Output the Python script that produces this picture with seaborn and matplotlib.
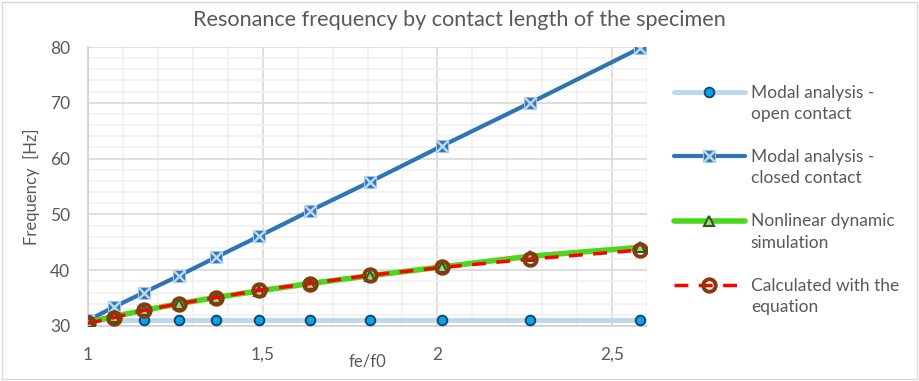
import matplotlib
matplotlib.use('Agg')
import matplotlib.pyplot as plt
import seaborn as sns
from matplotlib.patches import Rectangle
from matplotlib.ticker import MultipleLocator
from matplotlib.lines import Line2D
from matplotlib.legend_handler import HandlerLine2D

# data
fe_f0 = [1.0, 1.074, 1.16, 1.26, 1.366, 1.49, 1.634, 1.806, 2.014, 2.266, 2.58]
open_contact = [31.0, 31.0, 31.0, 31.0, 31.0, 31.0, 31.0, 31.0, 31.0, 31.0, 31.0]
closed_contact = [31.0, 33.4, 36.0, 39.0, 42.3, 46.1, 50.6, 55.8, 62.3, 70.0, 79.8]
nonlinear_sim = [30.7, 31.7, 32.8, 34.0, 35.1, 36.3, 37.6, 39.0, 40.6, 42.5, 44.1]
calc_equation = [30.5, 31.5, 32.8, 34.0, 35.1, 36.4, 37.6, 39.1, 40.5, 42.0, 43.6]

x_ticks = [1, 1.5, 2, 2.5]
x_tick_labels = ['1', '1,5', '2', '2,5']
y_ticks = [30, 40, 50, 60, 70, 80]
legend_labels = ['Modal analysis -\nopen contact', 'Modal analysis -\nclosed contact',
                 'Nonlinear dynamic\nsimulation', 'Calculated with the\nequation']


class FirstLineHandler(HandlerLine2D):
    # put the legend symbol next to the first line of a two-line label
    def create_artists(self, legend, orig_handle, xdescent, ydescent,
                       width, height, fontsize, trans):
        arts = super().create_artists(legend, orig_handle, xdescent, ydescent,
                                      width, height, fontsize, trans)
        for a in arts:
            a.set_ydata([y + 0.68 * fontsize for y in a.get_ydata()])
        return arts


sns.set_style('white')
plt.rcParams['font.family'] = ['Lato', 'DejaVu Sans']
grey = '#595959'

fig = plt.figure(figsize=(9.19, 3.81), dpi=100)
ax = fig.add_axes([88 / 919, 1 - 326 / 381, (647 - 88) / 919, (326 - 47) / 381])

# Modal analysis - open contact
sns.lineplot(x=fe_f0, y=open_contact, ax=ax, color='#BDD7EE', linewidth=3.5,
             marker='o', markersize=7, markerfacecolor='#00A6E8',
             markeredgecolor='#1F3F66', markeredgewidth=1.3, zorder=3)
l1 = ax.lines[-1]

# Modal analysis - closed contact
sns.lineplot(x=fe_f0, y=closed_contact, ax=ax, color='#2E75B6', linewidth=3,
             marker='s', markersize=8, markerfacecolor='#2E75B6',
             markeredgecolor='#9DC3E6', markeredgewidth=0.8, zorder=4)
l2 = ax.lines[-1]
sns.lineplot(x=fe_f0, y=closed_contact, ax=ax, linestyle='none', marker='x',
             markersize=8, markeredgecolor='#BDD7EE', markeredgewidth=1.8, zorder=5)
l2x = ax.lines[-1]

# Nonlinear dynamic simulation
sns.lineplot(x=fe_f0, y=nonlinear_sim, ax=ax, color='#4CD61E', linewidth=4,
             marker='^', markersize=7.5, markerfacecolor='#A9D18E',
             markeredgecolor='#2F5B1A', markeredgewidth=1.5, zorder=6)
l3 = ax.lines[-1]

# Calculated with the equation
sns.lineplot(x=fe_f0, y=calc_equation, ax=ax, color='#FF0000', linewidth=2.5,
             linestyle=(0, (4, 3)), marker='o', markersize=9,
             markerfacecolor='none', markeredgecolor='#843C0C',
             markeredgewidth=2.8, zorder=7)
l4 = ax.lines[-1]

ax.set_xlim(1, 2.6)
ax.set_ylim(30, 80)
ax.set_xticks(x_ticks)
ax.set_xticklabels(x_tick_labels)
ax.set_yticks(y_ticks)
ax.xaxis.set_minor_locator(MultipleLocator(0.1))
ax.yaxis.set_minor_locator(MultipleLocator(2))
ax.grid(which='major', color='#D9D9D9', linewidth=1.2)
ax.grid(which='minor', color='#F0F0F0', linewidth=1.2)
ax.set_axisbelow(True)
for s in ['top', 'right']:
    ax.spines[s].set_visible(False)
for s in ['left', 'bottom']:
    ax.spines[s].set_color('#D0D0D0')
    ax.spines[s].set_linewidth(1.2)
ax.tick_params(which='major', length=5, color='#D0D0D0', labelcolor=grey,
               labelsize=12.5, pad=8)
ax.tick_params(which='minor', length=0)
ax.tick_params(axis='x', pad=10)

ax.set_xlabel('fe/f0', color=grey, fontsize=12, labelpad=-7)
ax.set_ylabel('Frequency  [Hz]', color=grey, fontsize=12, labelpad=7)
fig.suptitle('Resonance frequency by contact length of the specimen',
             x=0.5, y=0.975, color=grey, fontsize=15.6)

leg = ax.legend([l1, (l2, l2x), l3, l4], legend_labels,
                handler_map={Line2D: FirstLineHandler()},
                loc='upper left', bbox_to_anchor=(1.035, 0.89), frameon=False,
                fontsize=12.5, labelcolor=grey, handlelength=4.1, handletextpad=0.35,
                labelspacing=1.55, borderaxespad=0)
for t in leg.get_texts():
    t.set_linespacing(1.42)

fig.patches.append(Rectangle((0.002, 0.004), 0.996, 0.992, transform=fig.transFigure,
                             fill=False, edgecolor='#D9D9D9', linewidth=1))

fig.savefig('out.png', dpi=100, facecolor='white')
